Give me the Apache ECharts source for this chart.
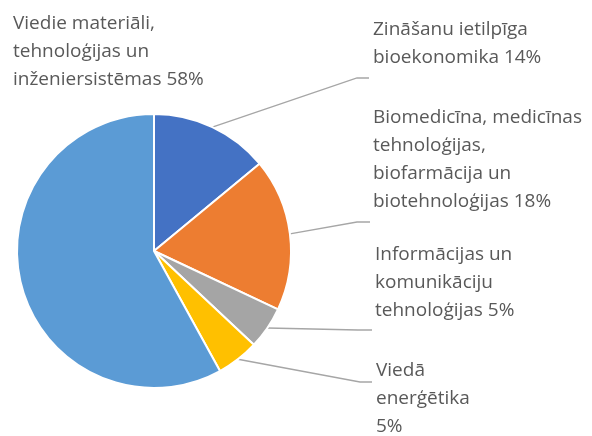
<!DOCTYPE html>
<html>
<head>
<meta charset="utf-8">
<script src="https://cdn.jsdelivr.net/npm/echarts@6/dist/echarts.min.js"></script>
<style>
  html, body { margin: 0; padding: 0; background: #ffffff; }
  #chart { width: 592px; height: 436px; }
</style>
</head>
<body>
<div id="chart"></div>
<script>
// Research specialisation areas and their shares (%)
const categories = [
  'Zināšanu ietilpīga\nbioekonomika',
  'Biomedicīna, medicīnas\ntehnoloģijas,\nbiofarmācija un\nbiotehnoloģijas',
  'Informācijas un\nkomunikāciju\ntehnoloģijas',
  'Viedā\nenerģētika',
  'Viedie materiāli,\ntehnoloģijas un\ninženiersistēmas'
];
const shares = [14, 18, 5, 5, 58];
// Text placed between the name and its percentage
const valueJoin = [' ', ' ', ' ', '\n', ' '];
const colors = ['#4472C4', '#ED7D31', '#A5A5A5', '#FFC000', '#5B9BD5'];

// Label boxes (top-left) and leader-line bends/ends, in pixels
const labelBoxes = [
  { x: 373, y: 16,  bend: [357, 78],  end: [369, 78] },
  { x: 373, y: 104, bend: [357, 222], end: [370, 222] },
  { x: 375, y: 241, bend: [358, 330], end: [372, 330] },
  { x: 376, y: 357, bend: [360, 382], end: [372, 382] },
  { x: 13,  y: 10,  bend: null,       end: null }
];

const chart = echarts.init(document.getElementById('chart'), null, { renderer: 'canvas' });

const data = categories.map((name, i) => ({
  name: name,
  value: shares[i],
  itemStyle: { color: colors[i] },
  labelLine: { show: labelBoxes[i].bend !== null }
}));

chart.setOption({
  animation: false,
  backgroundColor: '#ffffff',
  series: [{
    type: 'pie',
    center: [154, 251],
    radius: 137,
    startAngle: 90,
    clockwise: true,
    avoidLabelOverlap: false,
    data: data,
    itemStyle: { borderColor: '#ffffff', borderWidth: 2 },
    label: {
      show: true,
      position: 'outside',
      fontFamily: '"Open Sans", sans-serif',
      fontSize: 19,
      lineHeight: 28,
      color: '#595959',
      align: 'left',
      formatter: p => p.name + valueJoin[p.dataIndex] + p.value + '%'
    },
    labelLine: {
      show: true,
      length: 20,
      length2: 20,
      lineStyle: { color: '#A6A6A6', width: 1.3 }
    },
    labelLayout: params => {
      const box = labelBoxes[params.dataIndex];
      const out = { x: box.x, y: box.y, align: 'left', verticalAlign: 'top' };
      if (box.bend && params.labelLinePoints) {
        out.labelLinePoints = [params.labelLinePoints[0], box.bend, box.end];
      }
      return out;
    }
  }]
});
</script>
</body>
</html>
